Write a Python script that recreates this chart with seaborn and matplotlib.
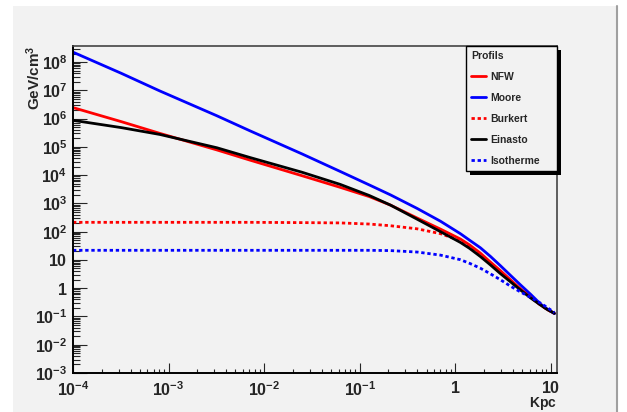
import numpy as np
import pandas as pd
import matplotlib
matplotlib.use("Agg")
import matplotlib.pyplot as plt
import seaborn as sns
from matplotlib.patches import Rectangle
from matplotlib.lines import Line2D
from matplotlib.ticker import LogLocator, NullFormatter, FixedLocator

# Données (rayon en kpc, densité en GeV/cm3)
r_kpc = [0.0001, 0.00032, 0.00081, 0.0032, 0.0071, 0.025, 0.0625, 0.126, 0.21, 0.40,
         0.70, 1.13, 1.41, 1.83, 2.34, 2.96, 3.80, 4.80, 6.17, 7.76, 9.12, 10.9]
nfw = [2.45e6, 7.8e5, 3.0e5, 7.8e4, 3.4e4, 9.5e3, 3.7e3, 1.74e3, 870, 302,
       123, 55, 34, 17.4, 8.3, 4.2, 1.95, 0.95, 0.48, 0.26, 0.18, 0.129]
moore = [2.24e8, 4.0e7, 9.5e6, 1.26e6, 3.7e5, 5.6e4, 1.35e4, 4.5e3, 2.0e3, 660,
         234, 85, 50, 27, 13.2, 6.3, 2.8, 1.32, 0.60, 0.28, 0.186, 0.126]
burkert = [214, 214, 214, 214, 214, 209, 204, 186, 162, 126,
           85, 48, 29.5, 14.5, 7.2, 3.6, 1.78, 0.91, 0.47, 0.26, 0.178, 0.129]
einasto = [8.7e5, 4.8e5, 2.75e5, 9.3e4, 4.2e4, 1.26e4, 4.7e3, 1.9e3, 870, 275,
           100, 41.7, 25.7, 13.2, 6.6, 3.3, 1.66, 0.87, 0.447, 0.257, 0.178, 0.129]
isotherme = [21.9, 21.9, 21.9, 21.9, 21.9, 21.9, 21.9, 21.9, 21.4, 19,
             14.8, 10.2, 7.6, 5.1, 3.2, 2.0, 1.17, 0.74, 0.47, 0.30, 0.21, 0.138]

profils = ["NFW", "Moore", "Burkert", "Einasto", "Isotherme"]
couleurs = {"NFW": "#ff0000", "Moore": "#0000ff", "Burkert": "#ff0000",
            "Einasto": "#000000", "Isotherme": "#0000ff"}
tirets = {"NFW": "", "Moore": "", "Burkert": (1.2, 1.0),
          "Einasto": "", "Isotherme": (1.2, 1.0)}

xticks = [1e-4, 1e-3, 1e-2, 1e-1, 1, 10]
xtick_labels = [r"$\mathbf{10^{-4}}$", r"$\mathbf{10^{-3}}$", r"$\mathbf{10^{-2}}$",
                r"$\mathbf{10^{-1}}$", r"$\mathbf{1}$", r"$\mathbf{10}$"]
yticks = [1e-3, 1e-2, 1e-1, 1, 10, 1e2, 1e3, 1e4, 1e5, 1e6, 1e7, 1e8]
ytick_labels = [r"$\mathbf{10^{-3}}$", r"$\mathbf{10^{-2}}$", r"$\mathbf{10^{-1}}$",
                r"$\mathbf{1}$", r"$\mathbf{10}$", r"$\mathbf{10^{2}}$", r"$\mathbf{10^{3}}$",
                r"$\mathbf{10^{4}}$", r"$\mathbf{10^{5}}$", r"$\mathbf{10^{6}}$",
                r"$\mathbf{10^{7}}$", r"$\mathbf{10^{8}}$"]

df = pd.DataFrame({"r": r_kpc, "NFW": nfw, "Moore": moore, "Burkert": burkert,
                   "Einasto": einasto, "Isotherme": isotherme})
df = df.melt(id_vars="r", var_name="profil", value_name="rho")

sns.set_style("ticks")
plt.rcParams["font.family"] = ["Liberation Sans", "DejaVu Sans"]
plt.rcParams["mathtext.fontset"] = "custom"
plt.rcParams["mathtext.rm"] = "Liberation Sans:bold"
plt.rcParams["mathtext.bf"] = "Liberation Sans:bold"
plt.rcParams["mathtext.it"] = "Liberation Sans:bold"

gris = "#f2f2f2"
fig = plt.figure(figsize=(6.27, 4.12), dpi=100)
fig.patch.set_facecolor("white")
# fond du canvas
fig.add_artist(Rectangle((13 / 627, 0), (616 - 13) / 627, (412 - 6) / 412,
                         transform=fig.transFigure, facecolor=gris,
                         edgecolor="none", zorder=-10))
fig.add_artist(Line2D([616.5 / 627] * 2, [0, 406 / 412], color="#a0a0a0",
                      lw=1.5, transform=fig.transFigure))

ax = fig.add_axes([73 / 627, 39 / 412, 484 / 627, 327 / 412])
ax.set_facecolor(gris)

sns.lineplot(data=df, x="r", y="rho", hue="profil", style="profil",
             hue_order=profils, style_order=profils, palette=couleurs,
             dashes=tirets, estimator=None, sort=False, lw=2, ax=ax,
             legend=False)

ax.set_xscale("log")
ax.set_yscale("log")
ax.set_xlim(1e-4, 11.6)
ax.set_ylim(1e-3, 3.7e8)

ax.xaxis.set_major_locator(FixedLocator(xticks))
ax.set_xticklabels(xtick_labels)
ax.yaxis.set_major_locator(FixedLocator(yticks))
ax.set_yticklabels(ytick_labels)
ax.xaxis.set_minor_locator(LogLocator(base=10, subs=np.arange(2, 10), numticks=100))
ax.yaxis.set_minor_locator(LogLocator(base=10, subs=np.arange(2, 10), numticks=100))
ax.xaxis.set_minor_formatter(NullFormatter())
ax.yaxis.set_minor_formatter(NullFormatter())

ax.tick_params(axis="y", which="major", direction="in", length=10, width=0.8,
               labelsize=11.5, pad=4)
ax.tick_params(axis="y", which="minor", direction="in", length=5, width=0.8)
ax.tick_params(axis="x", which="major", direction="in", length=7, width=0.8,
               labelsize=11.5, pad=5)
ax.tick_params(axis="x", which="minor", direction="in", length=3, width=0.8)

for s in ["left", "bottom"]:
    ax.spines[s].set_color("black")
    ax.spines[s].set_linewidth(1.4)
for s in ["top", "right"]:
    ax.spines[s].set_color("#444444")
    ax.spines[s].set_linewidth(1.2)

ax.set_ylabel(r"$\mathbf{GeV/cm^{3}}$", loc="top", fontsize=11)
ax.yaxis.set_label_coords(-0.063, 1.0)
ax.set_xlabel(r"$\mathbf{Kpc}$", loc="right", fontsize=10)
ax.xaxis.set_label_coords(1.0, -0.067)

# Légende
handles = [Line2D([], [], color=couleurs[p], lw=2,
                  linestyle=(0, tirets[p]) if tirets[p] else "-") for p in profils]
leg = ax.legend(handles, profils, title="Profils",
                bbox_to_anchor=((466 - 73) / 484, 0, (557 - 466) / 484, 1),
                loc="upper left", mode="expand", borderaxespad=0,
                frameon=True, fancybox=False, edgecolor="black", facecolor=gris,
                framealpha=1, prop={"weight": "bold", "size": 7.5},
                title_fontproperties={"weight": "bold", "size": 7.5},
                alignment="left", handlelength=1.45, handletextpad=0.4,
                labelspacing=1.05, borderpad=0.5)
leg.get_frame().set_linewidth(1)

fig.canvas.draw()
bb = leg.get_window_extent().transformed(fig.transFigure.inverted())
dx, dy = 4 / 627, 4 / 412
ax.add_artist(Rectangle((bb.x0 + dx, bb.y0 - dy), bb.width, bb.height,
                        transform=fig.transFigure, facecolor="black",
                        edgecolor="none", zorder=4.5, clip_on=False))

fig.savefig("out.png", dpi=100)
